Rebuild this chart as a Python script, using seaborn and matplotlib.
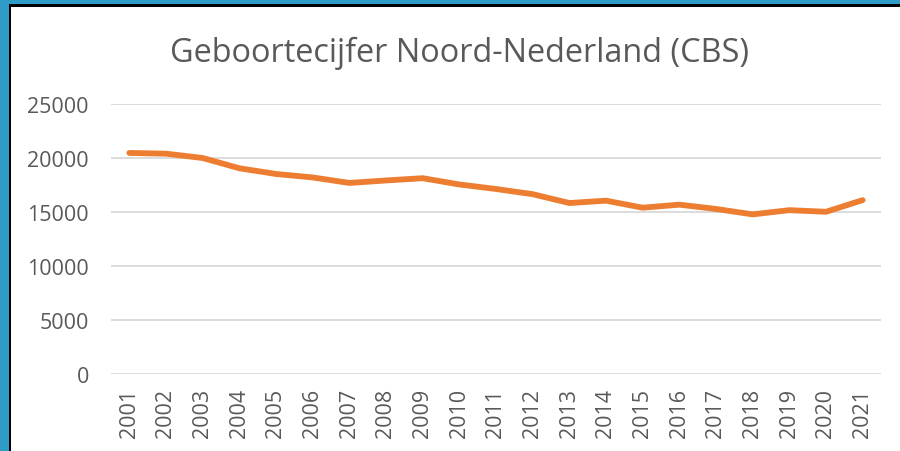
import matplotlib
matplotlib.use('Agg')
import matplotlib.pyplot as plt
import seaborn as sns
import pandas as pd
from matplotlib.patches import Rectangle

# Geboortecijfer Noord-Nederland (CBS)
jaren = list(range(2001, 2022))
geboorten = [20470, 20400, 20000, 19050, 18520, 18200, 17690, 17920, 18130, 17550,
             17130, 16650, 15830, 16050, 15400, 15680, 15280, 14780, 15170, 15020, 16100]
y_ticks = [0, 5000, 10000, 15000, 20000, 25000]

df = pd.DataFrame({'Jaar': jaren, 'Geboorten': geboorten})

sns.set_theme(style='white')
plt.rcParams['font.family'] = ['Open Sans', 'DejaVu Sans']

tekst = '#595959'
fig = plt.figure(figsize=(9, 4.52), dpi=100, facecolor='#2E9CC6')

# witte grafiekvlak met zwarte rand
fig.patches.append(Rectangle((9 / 900, -0.01), 1, (452 - 5) / 452 + 0.01, transform=fig.transFigure,
                             facecolor='black', edgecolor='none', zorder=-2))
fig.patches.append(Rectangle((11 / 900, -0.01), 1, (452 - 8) / 452 + 0.01, transform=fig.transFigure,
                             facecolor='white', edgecolor='none', zorder=-1))

ax = fig.add_axes([111 / 900, 1 - 375 / 452, 770 / 900, 270 / 452])
ax.set_facecolor('none')

sns.lineplot(data=df, x='Jaar', y='Geboorten', ax=ax, color='#ED7D31', linewidth=4.2,
             solid_capstyle='round', solid_joinstyle='round', zorder=3)

ax.set_xlim(2000.5, 2021.5)
ax.set_ylim(0, 25000)
ax.set_yticks(y_ticks)
ax.set_yticklabels([str(v) for v in y_ticks])
ax.set_xticks(jaren)
ax.set_xticklabels([str(j) for j in jaren], rotation=90)
ax.grid(axis='y', color='#D9D9D9', linewidth=1.3)
ax.grid(axis='x', visible=False)
for s in ax.spines.values():
    s.set_visible(False)
ax.tick_params(axis='y', length=0, pad=16, labelsize=15.5, labelcolor=tekst)
ax.tick_params(axis='x', length=0, pad=10, labelsize=15.5, labelcolor=tekst)
ax.set_xlabel('')
ax.set_ylabel('')

fig.text(459 / 900, 1 - 53 / 452, 'Geboortecijfer Noord-Nederland (CBS)', ha='center', va='center',
         fontsize=23.4, color=tekst)

fig.savefig('out.png', dpi=100, facecolor=fig.get_facecolor())
